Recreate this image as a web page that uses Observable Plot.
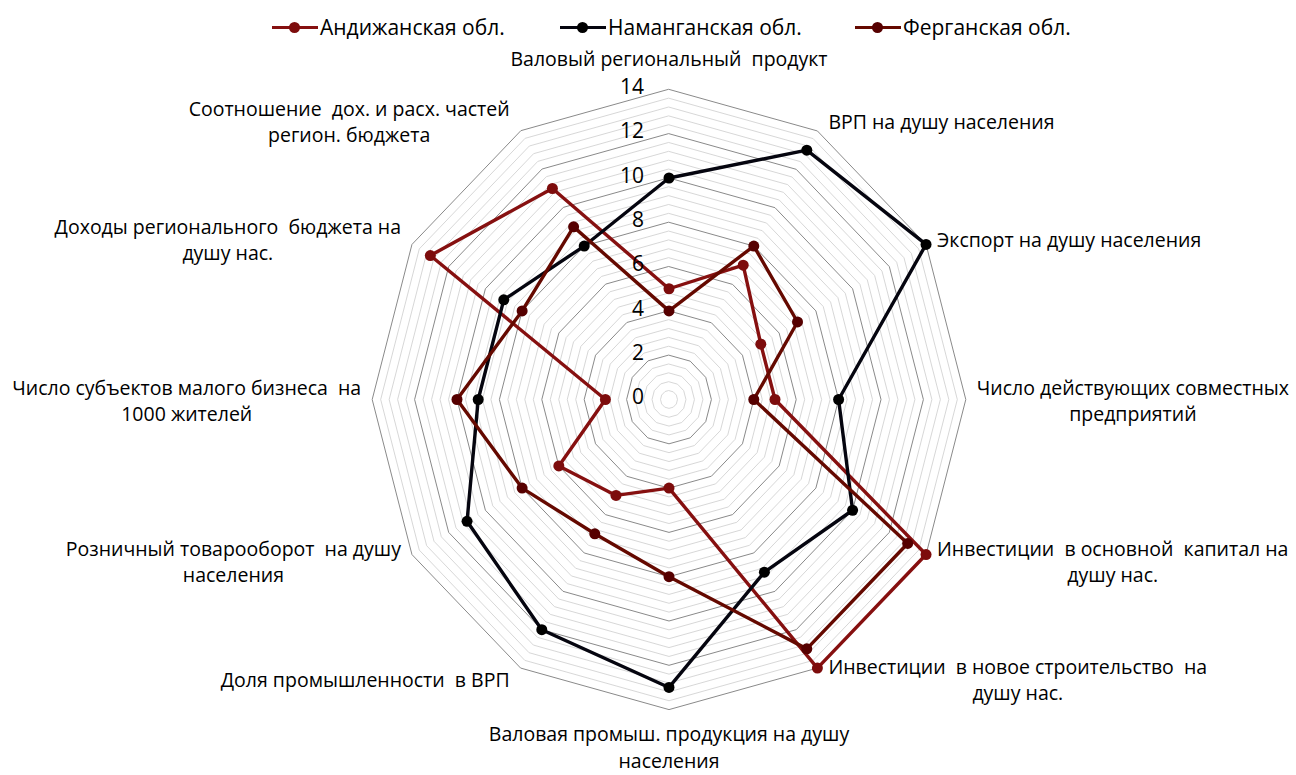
<!DOCTYPE html>
<html><head><meta charset="utf-8">
<script src="https://cdn.jsdelivr.net/npm/d3@7"></script>
<script src="https://cdn.jsdelivr.net/npm/@observablehq/plot@0.6"></script>
<style>
body{margin:0;background:#fff;font-family:"Open Sans",sans-serif;}
#legend{position:relative;height:54px;width:1296px;}
.item{position:absolute;top:27px;transform:translateY(-50%);display:flex;align-items:center;font-size:21px;color:#000;white-space:nowrap;}
.sw{position:relative;width:46px;height:3px;margin-right:2px;}
.sw i{position:absolute;left:17px;top:-4px;width:11px;height:11px;border-radius:50%;}
svg text{white-space:pre;}
</style>
</head><body>
<div id="legend"></div>
<div id="chart"></div>
<script>
// ---- data ----
const categories = [
  "Валовый региональный  продукт",
  "ВРП на душу населения",
  "Экспорт на душу населения",
  "Число действующих совместных\nпредприятий",
  "Инвестиции  в основной  капитал на\nдушу нас.",
  "Инвестиции  в новое строительство  на\nдушу нас.",
  "Валовая промыш. продукция на душу\nнаселения",
  "Доля промышленности  в ВРП",
  "Розничный товарооборот  на душу\nнаселения",
  "Число субъектов малого бизнеса  на\n1000 жителей",
  "Доходы регионального  бюджета на\nдушу нас.",
  "Соотношение  дох. и расх. частей\nрегион. бюджета"
];
const seriesNames = ["Андижанская обл.", "Наманганская обл.", "Ферганская обл."];
const andijan  = [5, 7, 5, 5, 14, 14, 4, 5, 6, 3, 13, 11];
const namangan = [10, 13, 14, 8, 10, 9, 13, 12, 11, 9, 9, 8];
const fergana  = [4, 8, 7, 4, 13, 13, 8, 7, 8, 10, 8, 9];
const tickValues = [0, 2, 4, 6, 8, 10, 12, 14];
const minorStep = 0.4;

// ---- styles ----
const colors = ["#861010", "#05050f", "#650900"];
const markerColors = ["#7d0c0c", "#000000", "#560000"];
const FONT = "'Open Sans', sans-serif";
const labelSize = 19.5;

// ---- geometry helpers ----
const n = categories.length;
const ang = i => i * 2 * Math.PI / n;
const px = (r, i) => r * Math.sin(ang(i));
const py = (r, i) => r * Math.cos(ang(i));
const maxV = tickValues[tickValues.length - 1];

const W = 1296, H = 721;
const cx = 668.5, cy = 345, kx = 21.2, ky = 22.15;

// grid rings
const ringLevels = d3.range(1, Math.round(maxV / minorStep) + 1).map(k => ({k, v: +(k * minorStep).toFixed(2)}));
const ringPts = [];
for (const lv of ringLevels) {
  for (let i = 0; i < n; i++) ringPts.push({v: lv.v, major: lv.k % 5 === 0, i});
}

// series data
const allSeries = [andijan, namangan, fergana];
const seriesData = allSeries.map((vals, s) => vals.map((v, i) => ({s, v, i})));

// legend
const leg = document.getElementById("legend");
const legLeft = [272, 560, 855];
seriesNames.forEach((name, s) => {
  const it = document.createElement("div");
  it.className = "item";
  it.style.left = legLeft[s] + "px";
  it.innerHTML = `<span class="sw" style="background:${colors[s]}"><i style="background:${markerColors[s]}"></i></span><span>${name}</span>`;
  leg.appendChild(it);
});

// text measure
const ctx = document.createElement("canvas").getContext("2d");
ctx.font = `${labelSize}px ${FONT}`;
const lineH = 1.36;

const labelMarks = categories.map((c, i) => {
  const lines = c.split("\n");
  const w = d3.max(lines, l => ctx.measureText(l).width);
  const s = Math.sin(ang(i)), co = Math.cos(ang(i));
  const gap = 11;
  let dx = 0, dy = 0;
  const blockH = lines.length * labelSize * lineH;
  if (Math.abs(s) < 1e-6) {
    dy = co > 0 ? -(19 + blockH / 2) : (10 + blockH / 2);
  } else {
    dx = (s > 0 ? 1 : -1) * (gap + w / 2);
    dy = -12 * co;
  }
  return Plot.text([c], {
    x: () => px(maxV, i), y: () => py(maxV, i), text: d => d,
    dx, dy, textAnchor: "middle", lineAnchor: "middle", lineHeight: lineH,
    fontSize: labelSize, fill: "#000"
  });
});

const plot = Plot.plot({
  width: W, height: H, margin: 0,
  style: {fontFamily: FONT, background: "#fff", overflow: "visible"},
  x: {domain: [-maxV, maxV], range: [cx - maxV * kx, cx + maxV * kx]},
  y: {domain: [-maxV, maxV], range: [cy + maxV * ky, cy - maxV * ky]},
  axis: null,
  marks: [
    Plot.line(ringPts.filter(d => !d.major), {x: d => px(d.v, d.i), y: d => py(d.v, d.i), z: "v", curve: "linear-closed", stroke: "#d3d3d3", strokeWidth: 0.9}),
    Plot.line(ringPts.filter(d => d.major), {x: d => px(d.v, d.i), y: d => py(d.v, d.i), z: "v", curve: "linear-closed", stroke: "#8a8a8a", strokeWidth: 1}),
    ...seriesData.map((data, s) => Plot.line(data, {x: d => px(d.v, d.i), y: d => py(d.v, d.i), curve: "linear-closed", stroke: colors[s], strokeWidth: 3.4, strokeLinejoin: "round"})),
    ...seriesData.map((data, s) => Plot.dot(data, {x: d => px(d.v, d.i), y: d => py(d.v, d.i), r: 5.5, fill: markerColors[s], stroke: null})),
    Plot.text(tickValues, {x: 0, y: d => d, text: d => String(d), dx: -25, dy: -2, textAnchor: "end", fontSize: 21, fill: "#000"}),
    ...labelMarks
  ]
});
document.getElementById("chart").appendChild(plot);
</script>
</body></html>
